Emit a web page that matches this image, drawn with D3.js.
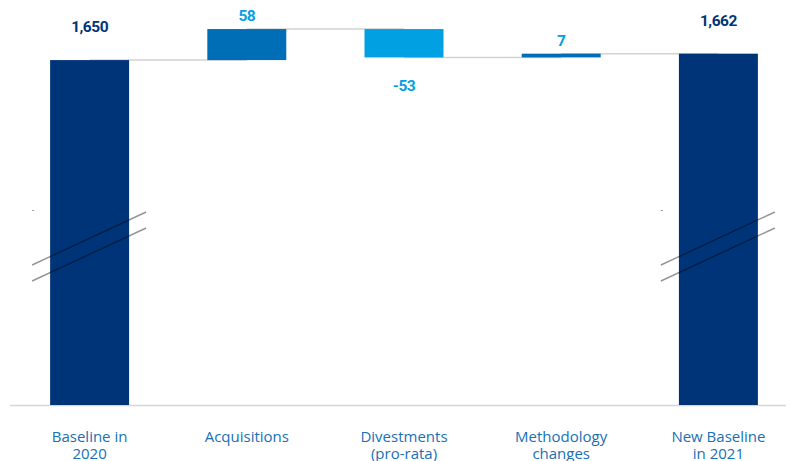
<!DOCTYPE html>
<html lang="en">
<head>
  <meta charset="utf-8" />
  <title>Baseline bridge 2020 - 2021</title>
  <script src="https://cdn.jsdelivr.net/npm/d3@7"></script>
  <style>
    html, body { margin: 0; padding: 0; background: #fff; }
    svg { display: block; }
  </style>
</head>
<body>
<div id="chart"></div>
<script>
// data
var categories = [["Baseline in", "2020"], ["Acquisitions"], ["Divestments", "(pro-rata)"], ["Methodology", "changes"], ["New Baseline", "in 2021"]];
var values = [1650, 58, -53, 7, 1662];
var kinds = ["total", "delta", "delta", "delta", "total"];
var valueLabels = ["1,650", "58", "-53", "7", "1,662"];

var width = 791, height = 461;
var navy = "#003479", mid = "#006eb7", light = "#00a0e3";

var svg = d3.select("#chart").append("svg")
    .attr("width", width)
    .attr("height", height);

var x = d3.scaleBand()
    .domain(d3.range(values.length))
    .range([11, 797])
    .paddingInner(0.4976)
    .paddingOuter(0.2488);

// broken axis: bottom of plot is not zero
var y = d3.scaleLinear().domain([1005, 1710]).range([405, 28]);

// build the waterfall steps
var running = 0;
var steps = values.map(function(v, i) {
  var s;
  if (kinds[i] == "total") {
    s = { start: y.domain()[0], end: v, level: v };
    running = v;
  } else {
    s = { start: running, end: running + v, level: running + v };
    running += v;
  }
  s.i = i; s.v = v; s.kind = kinds[i];
  return s;
});

// connectors (behind bars)
for (var i = 0; i < steps.length - 1; i++) {
  svg.append("line")
    .attr("x1", x(i) + x.bandwidth() / 2)
    .attr("x2", x(i + 1) + x.bandwidth() / 2)
    .attr("y1", y(steps[i].level))
    .attr("y2", y(steps[i].level))
    .attr("stroke", "#d2d2d2")
    .attr("stroke-width", 1.5);
}

// baseline
svg.append("line")
  .attr("x1", 10).attr("x2", 786)
  .attr("y1", y.range()[0] + 0.5).attr("y2", y.range()[0] + 0.5)
  .attr("stroke", "#d6d6d6")
  .attr("stroke-width", 1.5);

function barColor(d) {
  if (d.kind == "total") return navy;
  return d.v < 0 ? light : mid;
}

svg.selectAll("rect.bar")
  .data(steps)
  .enter().append("rect")
  .attr("class", "bar")
  .attr("x", function(d) { return x(d.i); })
  .attr("width", x.bandwidth())
  .attr("y", function(d) { return y(Math.max(d.start, d.end)); })
  .attr("height", function(d) { return Math.abs(y(d.start) - y(d.end)); })
  .attr("fill", barColor);

// axis break marks on the total bars
steps.filter(function(d) { return d.kind == "total"; }).forEach(function(d) {
  var x0 = x(d.i);
  [0, 16].forEach(function(off) {
    svg.append("line")
      .attr("x1", x0 - 18).attr("y1", 265 + off)
      .attr("x2", x0 + 96).attr("y2", 212 + off)
      .attr("stroke", "#000")
      .attr("stroke-opacity", 0.42)
      .attr("stroke-width", 1.4);
  });
  svg.append("line")
    .attr("x1", x0 - 18).attr("x2", x0 - 16)
    .attr("y1", 210.5).attr("y2", 210.5)
    .attr("stroke", "#999")
    .attr("stroke-width", 1);
});

// value labels
svg.selectAll("text.val")
  .data(steps)
  .enter().append("text")
  .attr("class", "val")
  .attr("x", function(d) { return x(d.i) + x.bandwidth() / 2; })
  .attr("y", function(d) {
    if (d.kind == "total") return y(d.end) - 28;
    if (d.v < 0) return y(d.end) + 34;
    return y(d.end) - 8;
  })
  .attr("text-anchor", "middle")
  .attr("font-family", "Roboto, sans-serif")
  .attr("font-weight", 700)
  .attr("font-size", 15.5)
  .attr("letter-spacing", -0.5)
  .attr("fill", function(d) { return d.kind == "total" ? navy : light; })
  .text(function(d) { return valueLabels[d.i]; });

// category labels
var cat = svg.selectAll("text.cat")
  .data(categories)
  .enter().append("text")
  .attr("class", "cat")
  .attr("text-anchor", "middle")
  .attr("font-family", "'Open Sans', sans-serif")
  .attr("font-size", 15)
  .attr("fill", "#1870b6");

cat.selectAll("tspan")
  .data(function(d, i) { return d.map(function(t) { return { t: t, i: i }; }); })
  .enter().append("tspan")
  .attr("x", function(d) { return x(d.i) + x.bandwidth() / 2; })
  .attr("y", function(d, j) { return 442 + j * 17; })
  .text(function(d) { return d.t; });
</script>
</body>
</html>
